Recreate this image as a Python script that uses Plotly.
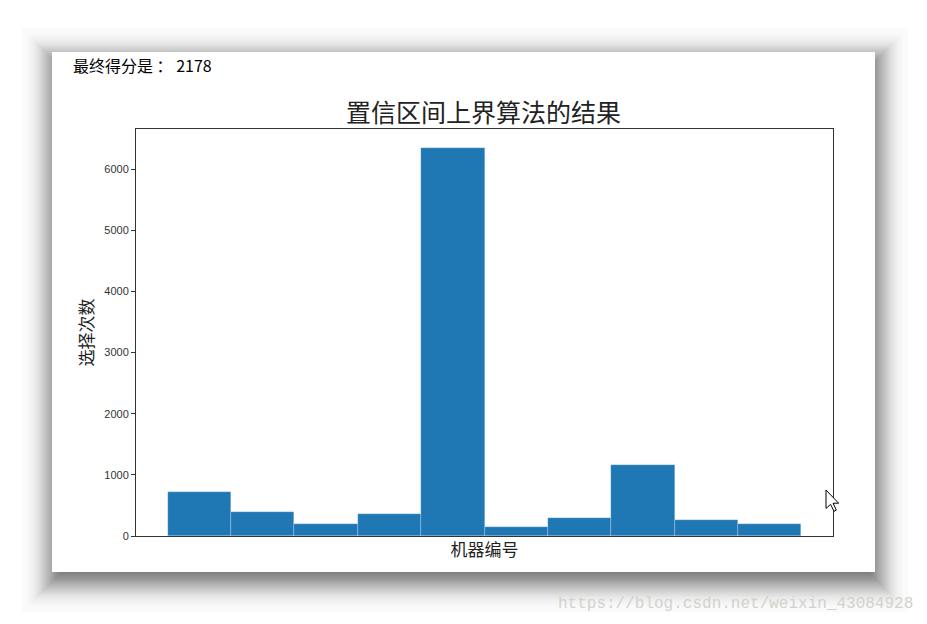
import plotly.graph_objects as go
from statistics import NormalDist

# ---- data ----
bin_edges = [0.0, 0.9, 1.8, 2.7, 3.6, 4.5, 5.4, 6.3, 7.2, 8.1, 9.0]
counts = [718, 392, 192, 354, 6341, 152, 288, 1169, 256, 192]
title_text = "置信区间上界算法的结果"
xlabel = "机器编号"
ylabel = "选择次数"
score_text = "最终得分是 ： 2178"
watermark = "https://blog.csdn.net/weixin_43084928"
ytick_vals = [0, 1000, 2000, 3000, 4000, 5000, 6000]

# the page has an 8px body margin; pixel coordinates below are screen coords
OFF = 8
SW, SH = 927, 624
W, H = SW - OFF, SH - OFF
PL, PR, PT, PB = 136, 833, 129, 536   # plot area in screen pixels
L, R, T, B = PL - OFF, SW - PR, PT - OFF, SH - PB
PW, PH = PR - PL, PB - PT


def px(x):
    return (x - PL) / PW


def py(y):
    return (PB - y) / PH


centers = [(a + b) / 2 for a, b in zip(bin_edges[:-1], bin_edges[1:])]
widths = [b - a for a, b in zip(bin_edges[:-1], bin_edges[1:])]
span = bin_edges[-1] - bin_edges[0]

fig = go.Figure(go.Bar(
    x=centers, y=counts, width=widths,
    marker=dict(color="#1f77b4", line=dict(width=0.5, color="rgba(255,255,255,0.45)")),
    hoverinfo="skip",
))

shapes = []
# blurred drop shadow around the framed figure
fx0, fy0, fx1, fy1 = 52, 52, 875, 572
N = 44
sigma = 14
sdx, sdy = 1.5, 8
nd = NormalDist()
for i in range(N):
    d = sigma * nd.inv_cdf((i + 0.5) / N)
    shapes.append(dict(type="rect", xref="paper", yref="paper", layer="below",
                       x0=px(fx0 - d + sdx), x1=px(fx1 + d + sdx),
                       y0=py(fy1 + d + sdy), y1=py(fy0 - d + sdy),
                       fillcolor="rgba(0,0,0,0.020)", line=dict(width=0)))
shapes.append(dict(type="rect", xref="paper", yref="paper", layer="below",
                   x0=px(fx0), x1=px(fx1), y0=py(fy1), y1=py(fy0),
                   fillcolor="white", line=dict(width=0)))

# mouse cursor (decorative)
cx, cy, s = 826, 490, 1.15
pts = [(0, 0), (0, 16), (4, 12.5), (7, 18.5), (9, 17.5), (6.2, 11.5), (11, 11.5)]
path = "M " + " L ".join(f"{px(cx + a * s):.5f},{py(cy + b * s):.5f}" for a, b in pts) + " Z"
shapes.append(dict(type="path", xref="paper", yref="paper", path=path,
                   fillcolor="white", line=dict(color="black", width=1)))

annotations = [
    dict(text=score_text, xref="paper", yref="paper", x=px(71), y=py(65),
         xanchor="left", yanchor="middle", showarrow=False,
         font=dict(family="Noto Sans CJK SC", size=16, color="#000")),
    dict(text=watermark, xref="paper", yref="paper", x=px(915), y=py(604),
         xanchor="right", yanchor="middle", showarrow=False,
         font=dict(family="Liberation Mono", size=16, color="#d2d2cc")),
    dict(text=title_text, xref="paper", yref="paper", x=px(483), y=py(111),
         xanchor="center", yanchor="middle", showarrow=False,
         font=dict(family="Noto Sans CJK SC", size=25, color="#222")),
]

fig.update_layout(
    width=W, height=H,
    margin=dict(l=L, r=R, t=T, b=B),
    paper_bgcolor="white",
    plot_bgcolor="rgba(0,0,0,0)",
    showlegend=False,
    bargap=0,
    shapes=shapes,
    annotations=annotations,
    xaxis=dict(range=[bin_edges[0] - 0.05 * span, bin_edges[-1] + 0.05 * span],
               showticklabels=False, ticks="", showgrid=False, zeroline=False,
               showline=True, linecolor="#333", linewidth=1, mirror=True,
               title=dict(text=xlabel, standoff=8,
                          font=dict(family="Noto Sans CJK SC", size=17, color="#222"))),
    yaxis=dict(range=[0, max(counts) * 1.05], tickvals=ytick_vals,
               ticks="outside", ticklen=4, tickcolor="#333", tickwidth=1,
               showgrid=False, zeroline=False,
               showline=True, linecolor="#333", linewidth=1, mirror=True,
               tickfont=dict(family="Liberation Sans", size=11, color="#333"),
               title=dict(text=ylabel, standoff=6,
                          font=dict(family="Noto Sans CJK SC", size=17, color="#222"))),
)

fig.write_html("out.html")
